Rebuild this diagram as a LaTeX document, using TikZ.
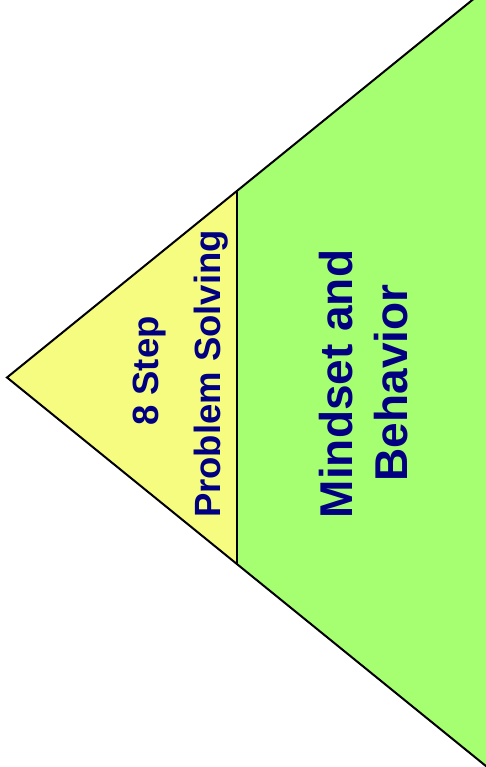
\documentclass[tikz,border=0pt]{standalone}
\usepackage{fontspec}
\setmainfont{Liberation Sans}
\definecolor{paleyellow}{RGB}{246,252,128}
\definecolor{palegreen}{RGB}{166,255,112}
\definecolor{navytext}{RGB}{0,0,128}
\tikzset{
  edge/.style={draw=black, line width=2pt, line join=miter},
  label/.style={text=navytext, rotate=90, anchor=base, inner sep=0pt, font=\bfseries}
}
\begin{document}
\begin{tikzpicture}[x=1pt,y=1pt]
\useasboundingbox (0,0) rectangle (486,767);
\coordinate (apex) at (7,389.5);
\coordinate (tr) at (520,805.7);
\coordinate (br) at (520,-26.7);
\coordinate (dtop) at (237,575.8);
\coordinate (dbot) at (237,203.2);
\begin{scope}
\clip (0,0) rectangle (486,767);
\fill[paleyellow] (apex) -- (dtop) -- (dbot) -- cycle;
\fill[palegreen] (dtop) -- (tr) -- (br) -- (dbot) -- cycle;
\draw[edge] (tr) -- (apex) -- (br);
\draw[edge] (dtop) -- (dbot);
\end{scope}
\node[label, font=\bfseries\fontsize{36.5}{43}\selectfont] (s1) at (158,396) {8 Step};
\node[label, font=\bfseries\fontsize{36.5}{43}\selectfont] (s2) at (220,393) {Problem Solving};
\node[label, font=\bfseries\fontsize{46}{55}\selectfont] (m1) at (352,383) {Mindset and};
\node[label, font=\bfseries\fontsize{46}{55}\selectfont] (m2) at (407,384) {Behavior};
\end{tikzpicture}
\end{document}
